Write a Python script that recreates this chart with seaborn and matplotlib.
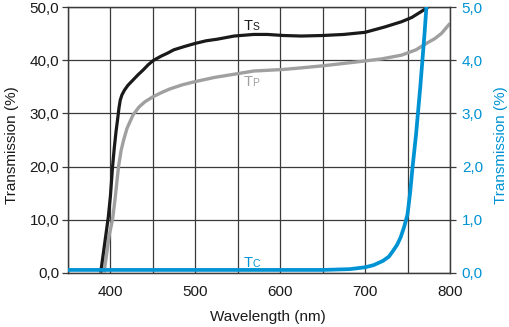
import matplotlib
matplotlib.use("Agg")
import matplotlib.pyplot as plt
import seaborn as sns
import pandas as pd
from matplotlib.ticker import FuncFormatter, MultipleLocator

ts_wl = [389, 392, 395, 398, 400.5, 403, 405, 407, 409, 410.5, 412, 414, 417, 421, 427, 433, 439,
         445, 451, 460, 468, 475, 487, 500, 513, 526, 546, 569, 585, 604, 625, 650, 675, 700,
         723, 743, 755, 763, 770, 776]
ts_val = [0, 3.5, 7, 10.5, 14.5, 20, 23.5, 26.5, 29, 31, 32.5, 33.5, 34.4, 35.3, 36.3, 37.3, 38.2,
          39.2, 40.0, 40.8, 41.4, 42.0, 42.6, 43.2, 43.7, 44.0, 44.6, 44.9, 44.9, 44.7, 44.6, 44.7,
          44.9, 45.3, 46.3, 47.3, 48.1, 48.9, 49.6, 50.3]

tp_wl = [393, 396, 399, 403, 406, 410, 413, 416, 420, 427, 434, 441, 450, 460, 470, 485, 500,
         523, 546, 569, 604, 625, 651, 684, 700, 720, 743, 760, 772, 782, 790, 800]
tp_val = [0, 3.5, 7, 10, 14, 20, 23, 25, 27.2, 29.7, 31.2, 32.2, 33.1, 33.9, 34.6, 35.4, 36.0,
          36.8, 37.4, 38.0, 38.3, 38.6, 39.0, 39.6, 39.9, 40.3, 41.0, 42.0, 43.2, 44.1, 45.1, 47.0]

tc_wl = [350, 650, 682, 700, 710, 721, 728, 733, 738, 742, 746, 750, 753, 756, 760, 765, 770, 773]
tc_val = [0.05, 0.05, 0.065, 0.1, 0.14, 0.22, 0.3, 0.41, 0.53, 0.67, 0.86, 1.1, 1.5, 2.0, 2.6,
          3.5, 4.5, 5.2]

x_ticks = [400, 500, 600, 700, 800]
label_ts = ("T", "S")
label_tp = ("T", "P")
label_tc = ("T", "C")

BLUE = "#0093d3"
GRAY = "#a0a0a0"
BLACK = "#1a1a1a"
GRID = "#3a3a3a"

sns.set_style("white")
plt.rcParams["font.family"] = ["Liberation Sans", "DejaVu Sans"]

fig = plt.figure(figsize=(5.10, 3.27), dpi=100)
ax = fig.add_axes([0.1324, 0.1664, 0.75, 0.811])
ax2 = ax.twinx()

df_ts = pd.DataFrame({"wl": ts_wl, "v": ts_val})
df_tp = pd.DataFrame({"wl": tp_wl, "v": tp_val})
df_tc = pd.DataFrame({"wl": tc_wl, "v": tc_val})

sns.lineplot(data=df_tp, x="wl", y="v", ax=ax, color=GRAY, lw=2.4, sort=False, zorder=3)
sns.lineplot(data=df_ts, x="wl", y="v", ax=ax, color=BLACK, lw=2.3, sort=False, zorder=4)
sns.lineplot(data=df_tc, x="wl", y="v", ax=ax2, color=BLUE, lw=2.7, sort=False, zorder=5)
for a in (ax, ax2):
    for ln in a.get_lines():
        ln.set_solid_joinstyle("round")
        ln.set_solid_capstyle("butt")

ax.set_xlim(350, 800)
ax.set_ylim(0, 50)
ax2.set_ylim(0, 5)

ax.xaxis.set_minor_locator(MultipleLocator(50))
ax.set_xticks(x_ticks)
ax.yaxis.set_major_locator(MultipleLocator(10))
ax2.yaxis.set_major_locator(MultipleLocator(1))
fmt = FuncFormatter(lambda v, p: f"{v:.1f}".replace(".", ","))
ax.yaxis.set_major_formatter(fmt)
ax2.yaxis.set_major_formatter(fmt)

ax.grid(True, which="both", axis="x", color=GRID, lw=0.9)
ax.grid(True, which="major", axis="y", color=GRID, lw=0.9)
ax.set_axisbelow(True)
ax2.grid(False)

for a in (ax, ax2):
    for s in a.spines.values():
        s.set_color(GRID)
        s.set_linewidth(0.9)

ax.tick_params(axis="x", which="both", direction="out", length=4, width=0.9,
               color=GRID, labelsize=11, labelcolor="#1a1a1a", pad=5)
ax.tick_params(axis="y", direction="out", length=4, width=0.9,
               color=GRID, labelsize=11, labelcolor="#1a1a1a", pad=2)
ax2.tick_params(axis="y", direction="out", length=4, width=0.9,
                color=GRID, labelsize=11, labelcolor=BLUE, pad=4.5)

ax.set_xlabel("Wavelength (nm)", fontsize=11, color="#1a1a1a", labelpad=8, x=0.523)
ax.set_ylabel("Transmission (%)", fontsize=11, color="#1a1a1a", labelpad=7.5, y=0.48)
ax2.set_ylabel("Transmission (%)", fontsize=11, color=BLUE, labelpad=8, y=0.48)

def lab(axis, x, y, parts, color):
    axis.text(x, y, parts[0], fontsize=10.5, color=color, ha="left", va="baseline", zorder=6)
    axis.annotate(parts[1], xy=(x, y), xycoords="data", xytext=(6.2, 0),
                  textcoords="offset points", fontsize=7.5, color=color,
                  ha="left", va="baseline", zorder=6)

lab(ax, 557, 45.7, label_ts, BLACK)
lab(ax, 557, 35.2, label_tp, GRAY)
lab(ax2, 557, 0.11, label_tc, BLUE)

fig.savefig("out.png", dpi=100)
